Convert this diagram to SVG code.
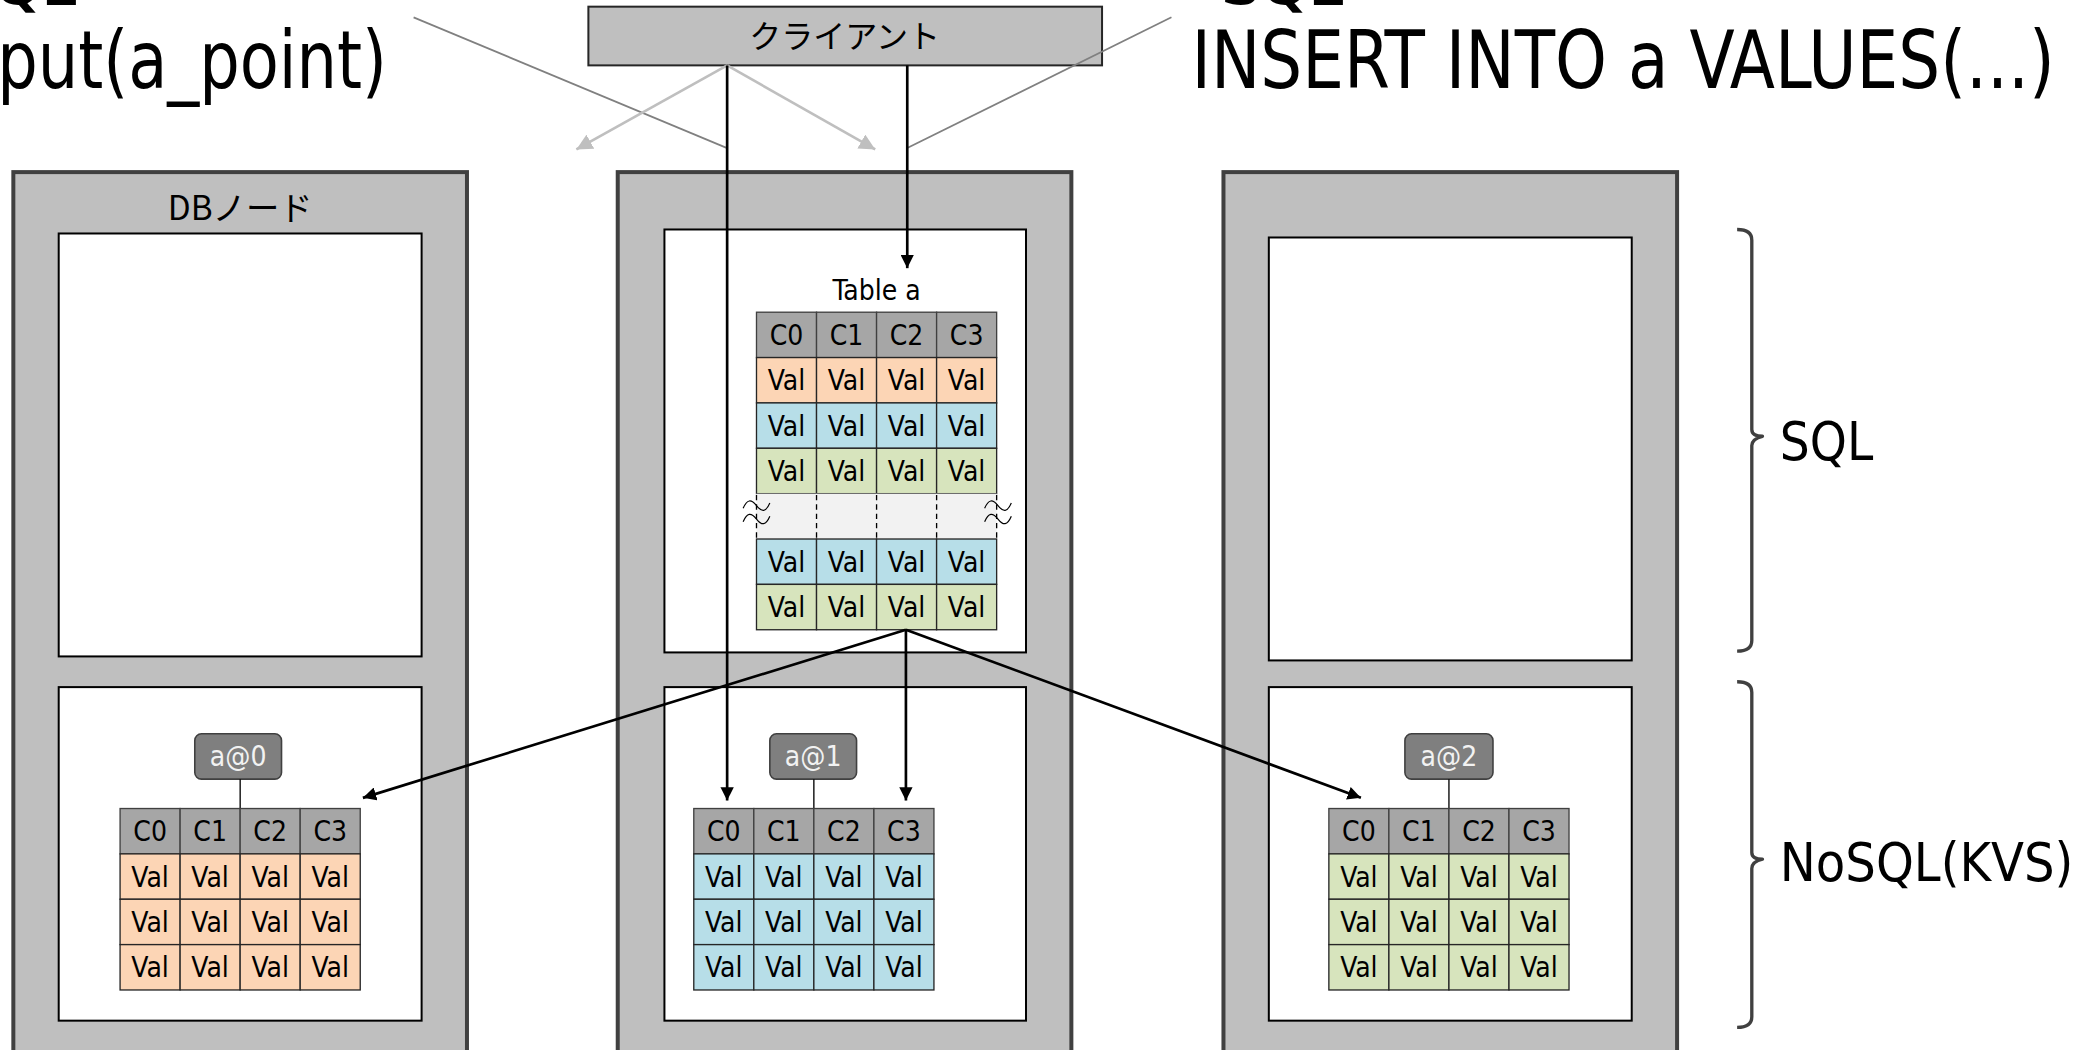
<svg xmlns="http://www.w3.org/2000/svg" xmlns:xlink="http://www.w3.org/1999/xlink" width="2092" height="1050" viewBox="0 0 2092 1050">
<style>
text{font-family:"DejaVu Sans Condensed","DejaVu Sans","Noto Sans CJK JP",sans-serif;font-stretch:condensed;fill:#000}
.jp{font-family:"Noto Sans CJK JP","DejaVu Sans",sans-serif}
.big{font-size:60px}
.head{font-family:"DejaVu Sans","Liberation Sans",sans-serif;font-stretch:normal;font-weight:bold;font-size:42px}
.side{font-size:40px}
.cell{font-size:21px;text-anchor:middle}
.node{fill:#bfbfbf;stroke:#404040;stroke-width:3}
.part{fill:#fff;stroke:#000;stroke-width:1.5}
.grid{stroke:#262626;stroke-width:1}
.conn{stroke:#000;stroke-width:2;fill:none}
.callout{stroke:#808080;stroke-width:1.3;fill:none}
.light{stroke:#bfbfbf;stroke-width:2;fill:none}
.brace{stroke:#404040;stroke-width:2.5;fill:none;stroke-linejoin:round}
.key{fill:#7f7f7f;stroke:#404040;stroke-width:1.2}
.keyt{font-size:21px;fill:#f2f2f2;text-anchor:middle}
.wave{stroke:#000;stroke-width:0.9;fill:none}
</style>
<defs>
<marker id="ah" viewBox="0 0 10 10" refX="10" refY="5" markerWidth="5" markerHeight="5" orient="auto" markerUnits="strokeWidth">
<path d="M0,0 L10,5 L0,10 z" fill="#000"/>
</marker>
<marker id="ahl" viewBox="0 0 10 10" refX="10" refY="5" markerWidth="6" markerHeight="6" orient="auto" markerUnits="strokeWidth">
<path d="M0,0 L10,5 L0,10 z" fill="#bfbfbf"/>
</marker>
<g id="valrow">
<rect x="0" y="0" width="45" height="34" class="grid"/>
<rect x="45" y="0" width="45" height="34" class="grid"/>
<rect x="90" y="0" width="45" height="34" class="grid"/>
<rect x="135" y="0" width="45" height="34" class="grid"/>
<text x="22.5" y="24.5" class="cell">Val</text>
<text x="67.5" y="24.5" class="cell">Val</text>
<text x="112.5" y="24.5" class="cell">Val</text>
<text x="157.5" y="24.5" class="cell">Val</text>
</g>
<g id="hdrrow">
<rect x="0" y="0" width="45" height="34" fill="#a6a6a6" stroke="#404040" stroke-width="1"/>
<rect x="45" y="0" width="45" height="34" fill="#a6a6a6" stroke="#404040" stroke-width="1"/>
<rect x="90" y="0" width="45" height="34" fill="#a6a6a6" stroke="#404040" stroke-width="1"/>
<rect x="135" y="0" width="45" height="34" fill="#a6a6a6" stroke="#404040" stroke-width="1"/>
<text x="22.5" y="24.5" class="cell">C0</text>
<text x="67.5" y="24.5" class="cell">C1</text>
<text x="112.5" y="24.5" class="cell">C2</text>
<text x="157.5" y="24.5" class="cell">C3</text>
</g>
<path id="wv" class="wave" d="M-10,3c3,-7 6,-7 10,-2s7,5 10,-2"/>
</defs>
<rect x="0" y="0" width="2092" height="1050" fill="#fff"/>
<g transform="scale(1.3342)">
<g id="labels">
<text x="58" y="3.5" class="head" text-anchor="end">NoSQL</text>
<text x="-2" y="66" class="big" textLength="292" lengthAdjust="spacingAndGlyphs">put(a_point)</text>
<text x="915" y="3.5" class="head">SQL</text>
<text x="893" y="66" class="big" textLength="647" lengthAdjust="spacingAndGlyphs">INSERT INTO a VALUES(...)</text>
</g>
<g id="client">
<rect x="441" y="5" width="385" height="44" fill="#bfbfbf" stroke="#262626" stroke-width="1.5"/>
<text x="633" y="36" class="jp" font-size="24" text-anchor="middle">クライアント</text>
</g>
<g id="node1">
<rect x="10" y="129" width="340" height="660" class="node"/>
<text x="180" y="165" class="jp" font-size="25" text-anchor="middle">DBノード</text>
<rect x="44" y="175" width="272" height="317" class="part"/>
<rect x="44" y="515" width="272" height="250" class="part"/>
</g>
<g id="node2">
<rect x="463" y="129" width="340" height="660" class="node"/>
<rect x="498" y="172" width="271" height="317" class="part"/>
<rect x="498" y="515" width="271" height="250" class="part"/>
</g>
<g id="node3">
<rect x="917" y="129" width="340" height="660" class="node"/>
<rect x="951" y="178" width="272" height="317" class="part"/>
<rect x="951" y="515" width="272" height="250" class="part"/>
</g>
<g id="table-a">
<text x="657" y="225" font-size="21" text-anchor="middle">Table a</text>
<use xlink:href="#hdrrow" x="567" y="234"/>
<use xlink:href="#valrow" x="567" y="268" fill="#fcd5b5"/>
<use xlink:href="#valrow" x="567" y="302" fill="#b7dee8"/>
<use xlink:href="#valrow" x="567" y="336" fill="#d7e4bd"/>
<rect x="567" y="370" width="180" height="34" fill="#f2f2f2"/>
<path d="M567,371V404M612,371V404M657,371V404M702,371V404M747,371V404" stroke="#000" stroke-width="1" stroke-dasharray="4,3"/>
<use xlink:href="#wv" x="567" y="378"/>
<use xlink:href="#wv" x="567" y="388"/>
<use xlink:href="#wv" x="748" y="378"/>
<use xlink:href="#wv" x="748" y="388"/>
<use xlink:href="#valrow" x="567" y="404" fill="#b7dee8"/>
<use xlink:href="#valrow" x="567" y="438" fill="#d7e4bd"/>
</g>
<g id="kvs0">
<rect x="146" y="550" width="65" height="34" rx="5" class="key"/>
<text x="178.5" y="574.5" class="keyt">a@0</text>
<line x1="180" y1="584" x2="180" y2="606" stroke="#000" stroke-width="1"/>
<use xlink:href="#hdrrow" x="90" y="606"/>
<use xlink:href="#valrow" x="90" y="640" fill="#fcd5b5"/>
<use xlink:href="#valrow" x="90" y="674" fill="#fcd5b5"/>
<use xlink:href="#valrow" x="90" y="708" fill="#fcd5b5"/>
</g>
<g id="kvs1">
<rect x="577" y="550" width="65" height="34" rx="5" class="key"/>
<text x="609.5" y="574.5" class="keyt">a@1</text>
<line x1="610" y1="584" x2="610" y2="606" stroke="#000" stroke-width="1"/>
<use xlink:href="#hdrrow" x="520" y="606"/>
<use xlink:href="#valrow" x="520" y="640" fill="#b7dee8"/>
<use xlink:href="#valrow" x="520" y="674" fill="#b7dee8"/>
<use xlink:href="#valrow" x="520" y="708" fill="#b7dee8"/>
</g>
<g id="kvs2">
<rect x="1053" y="550" width="66" height="34" rx="5" class="key"/>
<text x="1086" y="574.5" class="keyt">a@2</text>
<line x1="1086" y1="584" x2="1086" y2="606" stroke="#000" stroke-width="1"/>
<use xlink:href="#hdrrow" x="996" y="606"/>
<use xlink:href="#valrow" x="996" y="640" fill="#d7e4bd"/>
<use xlink:href="#valrow" x="996" y="674" fill="#d7e4bd"/>
<use xlink:href="#valrow" x="996" y="708" fill="#d7e4bd"/>
</g>
<g id="braces">
<path class="brace" d="M1302,172Q1313,172 1313,180L1313,322Q1313,327 1321,327Q1313,329 1313,334L1313,480Q1313,488 1302,488"/>
<text x="1334" y="345" class="side" textLength="70" lengthAdjust="spacingAndGlyphs">SQL</text>
<path class="brace" d="M1302,511Q1313,511 1313,519L1313,639Q1313,644 1321,644Q1313,646 1313,651L1313,762Q1313,770 1302,770"/>
<text x="1334" y="660" class="side" textLength="220" lengthAdjust="spacingAndGlyphs">NoSQL(KVS)</text>
</g>
<g id="connectors">
<line x1="310" y1="13" x2="545" y2="111" class="callout"/>
<line x1="878" y1="13" x2="680" y2="111" class="callout"/>
<line x1="545" y1="49" x2="432" y2="112" class="light" marker-end="url(#ahl)"/>
<line x1="545" y1="49" x2="656" y2="112" class="light" marker-end="url(#ahl)"/>
<line x1="545" y1="49" x2="545" y2="600" class="conn" marker-end="url(#ah)"/>
<line x1="680" y1="49" x2="680" y2="201" class="conn" marker-end="url(#ah)"/>
<line x1="679" y1="472" x2="272" y2="598" class="conn" marker-end="url(#ah)"/>
<line x1="679" y1="472" x2="679" y2="600" class="conn" marker-end="url(#ah)"/>
<line x1="679" y1="472" x2="1020" y2="598" class="conn" marker-end="url(#ah)"/>
</g>
</g>
</svg>
